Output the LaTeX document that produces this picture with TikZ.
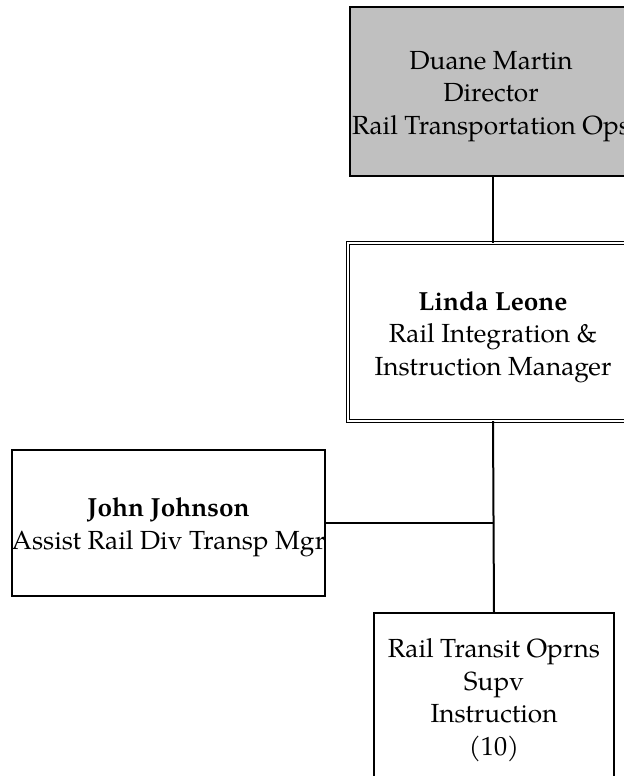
\documentclass[tikz,border=0pt]{standalone}
\usepackage{fontspec}
\setmainfont{TeX Gyre Pagella}
\definecolor{boxgray}{HTML}{C0C0C0}
\tikzset{
  orgbox/.style={draw=black, line width=1pt, inner sep=0pt, outer sep=0pt},
  orgtext/.style={inner sep=0pt, outer sep=0pt, align=center,
    font=\fontsize{13.1}{16.3}\selectfont},
  conn/.style={draw=black, line width=1pt}
}
\begin{document}
\begin{tikzpicture}[x=0.5pt,y=-0.5pt]
\clip (0,0) rectangle (624,776);
\fill[white] (0,0) rectangle (624,776);
\node[orgbox, fill=boxgray, minimum width=141pt, minimum height=84.5pt] (dm) at (491,91.5) {};
\node[orgtext] (dmt) at ([yshift=-2.5pt]dm.center) {Duane Martin\\Director\\Rail Transportation Ops};
\node[orgbox, double, line width=0.6pt, double distance=1.2pt, minimum width=145pt, minimum height=89pt] (ll) at (493,332) {};
\node[orgtext] (llt) at ([yshift=-2.5pt]ll.center) {\textbf{Linda Leone}\\Rail Integration \&\\Instruction Manager};
\node[orgbox, minimum width=156.5pt, minimum height=73pt] (jj) at (168.5,523) {};
\node[orgtext] (jjt) at ([yshift=-2pt]jj.center) {\textbf{John Johnson}\\Assist Rail Div Transp Mgr};
\node[orgbox, minimum width=120pt, minimum height=87pt] (rt) at (494,700) {};
\node[orgtext] (rtt) at (rt.center) {Rail Transit Oprns\\Supv\\Instruction\\(10)};
\coordinate (j) at (493,523);
\draw[conn] (ll.north |- dm.south) -- (ll.north);
\draw[conn] (ll.south) -- (rt.north);
\draw[conn] (jj.east) -- (j);
\end{tikzpicture}
\end{document}
